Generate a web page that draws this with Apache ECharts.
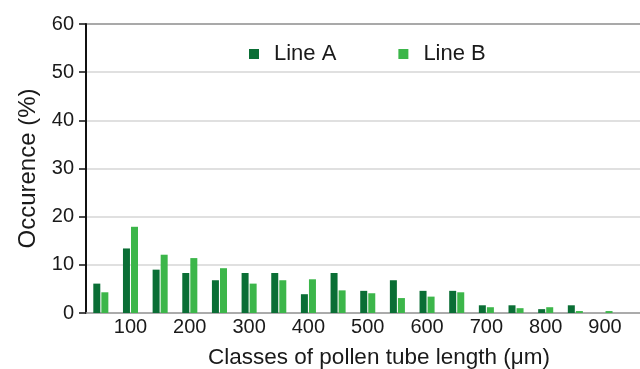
<!DOCTYPE html>
<html>
<head>
<meta charset="utf-8">
<script src="https://cdn.jsdelivr.net/npm/echarts@6/dist/echarts.min.js"></script>
<style>html,body{margin:0;padding:0;background:#fff}#c{width:640px;height:369px}</style>
</head>
<body>
<div id="c"></div>
<script>
const categories = [50,100,150,200,250,300,350,400,450,500,550,600,650,700,750,800,850,900];
const lineA = [6.1,13.4,9.0,8.3,6.8,8.3,8.3,3.9,8.3,4.6,6.8,4.6,4.6,1.6,1.6,0.8,1.6,0];
const lineB = [4.3,17.9,12.1,11.4,9.3,6.1,6.8,7.0,4.7,4.1,3.1,3.4,4.3,1.2,1.0,1.2,0.4,0.4];
const yTicks = [0,10,20,30,40,50,60];

const font = 'Liberation Sans, Arial, sans-serif';
const chart = echarts.init(document.getElementById('c'), null, {renderer:'canvas'});
const gridColors = yTicks.map((t,i)=> i===yTicks.length-1 ? '#8c8c8c' : '#d6d6d6');
chart.setOption({
  animation:false,
  grid:{left:86, right:0, top:24, bottom:56, containLabel:false, outerBoundsMode:'none'},
  legend:{
    data:['Line A','Line B'], top:38, left:244, itemWidth:10, itemHeight:10, itemGap:62,
    icon:'rect',
    textStyle:{fontFamily:font, fontSize:22, color:'#1a1a1a', padding:[0,0,0,10]}
  },
  xAxis:{
    type:'value', min:25, max:959, interval:25,
    axisLine:{show:true, lineStyle:{color:'#999', width:1.5}},
    axisTick:{show:false},
    splitLine:{show:false},
    axisLabel:{
      fontFamily:font, fontSize:20, color:'#1a1a1a', margin:4,
      showMinLabel:false, showMaxLabel:false,
      formatter:v=> (v%100===0 && categories.indexOf(v)>=0) ? String(v) : ''
    },
    name:'Classes of pollen tube length (\u03bcm)', nameLocation:'middle', nameGap:33,
    nameTextStyle:{fontFamily:font, fontSize:22.5, color:'#1a1a1a', padding:[0,0,0,32]}
  },
  yAxis:{
    type:'value', min:0, max:60, interval:10,
    axisLine:{show:true, lineStyle:{color:'#111', width:2}},
    axisTick:{show:true, inside:false, length:7, lineStyle:{color:'#111', width:1.5}},
    splitLine:{show:true, lineStyle:{color:gridColors, width:1.5}},
    axisLabel:{fontFamily:font, fontSize:20, color:'#1a1a1a', margin:12,
      formatter:v=> yTicks.indexOf(v)>=0 ? String(v) : ''},
    name:'Occurence (%)', nameLocation:'middle', nameGap:45, nameRotate:90,
    nameTextStyle:{fontFamily:font, fontSize:24, color:'#1a1a1a'}
  },
  series:[
    {name:'Line A', type:'bar', data:categories.map((c,i)=>[c,lineA[i]]), barWidth:7, barGap:'15%',
     itemStyle:{color:'#0a6e35'}},
    {name:'Line B', type:'bar', data:categories.map((c,i)=>[c,lineB[i]]), barWidth:7,
     itemStyle:{color:'#3cb64a'}}
  ]
});
</script>
</body>
</html>
